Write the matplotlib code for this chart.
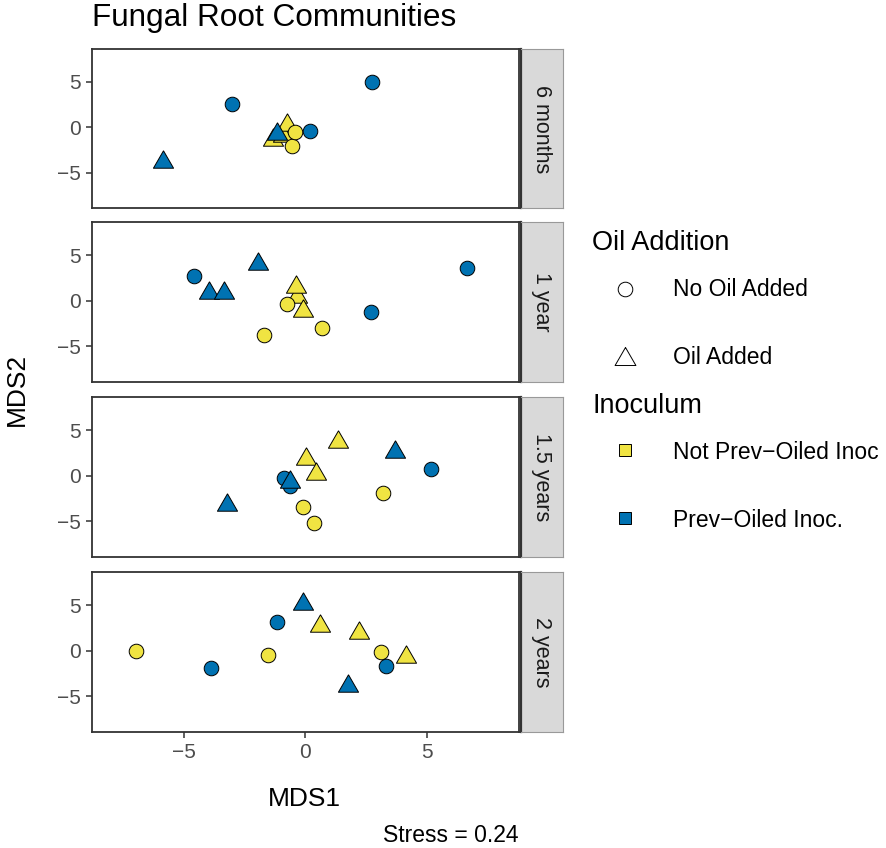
import numpy as np
import matplotlib
matplotlib.use('Agg')
import matplotlib.pyplot as plt
from matplotlib.lines import Line2D

plt.rcParams['font.family'] = ['Liberation Sans', 'DejaVu Sans']

# facet labels
panels = ['6 months', '1 year', '1.5 years', '2 years']

# points per facet (drawing order, back to front)
mds1_6m = [-1.33, -0.92, -0.73, -0.55, -0.41, 2.74, -3.01, -5.85, -1.14, 0.18]
mds2_6m = [-1.03, -0.59, 0.62, -2.10, -0.55, 4.93, 2.57, -3.47, -0.35, -0.40]
oil_6m = ['oil', 'oil', 'oil', 'none', 'none', 'none', 'none', 'oil', 'oil', 'none']
inoc_6m = ['not', 'not', 'not', 'not', 'not', 'prev', 'prev', 'prev', 'prev', 'prev']

mds1_1y = [-0.32, -0.37, -0.75, -0.07, -1.69, 0.69, -4.59, -3.95, -3.32, -1.96, 6.67, 2.71]
mds2_1y = [0.69, 1.78, -0.37, -0.84, -3.77, -3.03, 2.70, 1.16, 1.16, 4.34, 3.60, -1.25]
oil_1y = ['oil', 'oil', 'none', 'oil', 'none', 'none', 'none', 'oil', 'oil', 'oil', 'none', 'none']
inoc_1y = ['not'] * 6 + ['prev'] * 6

mds1_15y = [1.34, 0.04, 0.45, 3.19, -0.11, 0.37, 3.70, 5.18, -3.22, -0.62, -0.86, -0.64]
mds2_15y = [4.00, 2.19, 0.48, -1.93, -3.46, -5.20, 2.92, 0.73, -2.91, -1.10, -0.30, -0.36]
oil_15y = ['oil', 'oil', 'oil', 'none', 'none', 'none', 'oil', 'none', 'oil', 'none', 'none', 'oil']
inoc_15y = ['not'] * 6 + ['prev'] * 6

mds1_2y = [-6.95, -1.51, 3.11, 0.59, 2.23, 4.15, -0.10, 1.75, -1.16, -3.86, 3.32]
mds2_2y = [0.00, -0.47, -0.14, 3.00, 2.27, -0.36, 5.48, -3.51, 3.19, -1.94, -1.68]
oil_2y = ['none', 'none', 'none', 'oil', 'oil', 'oil', 'oil', 'oil', 'none', 'none', 'none']
inoc_2y = ['not'] * 6 + ['prev'] * 5

facet_x = [mds1_6m, mds1_1y, mds1_15y, mds1_2y]
facet_y = [mds2_6m, mds2_1y, mds2_15y, mds2_2y]
facet_oil = [oil_6m, oil_1y, oil_15y, oil_2y]
facet_inoc = [inoc_6m, inoc_1y, inoc_15y, inoc_2y]

ticks = [-5, 0, 5]
stress = 0.24

colors = {'not': '#F0E442', 'prev': '#0072B2'}
tri = [(0, 0.866), (-1, -0.866), (1, -0.866), (0, 0.866)]
shapes = {'none': 'o', 'oil': tri}
sizes = {'none': 10.5, 'oil': 14.5}

W, H = 886, 848
fig = plt.figure(figsize=(W / 100, H / 100), dpi=100)


def fx(px):
    return px / W


def fy(py):
    return 1 - py / H


tops = [49, 222.3, 397.3, 572.3]
ph = 159.4
left, right = 92.3, 519.3

for i, name in enumerate(panels):
    ax = fig.add_axes([fx(left), fy(tops[i] + ph), fx(right - left), ph / H])
    for x, y, o, c in zip(facet_x[i], facet_y[i], facet_oil[i], facet_inoc[i]):
        ax.plot([x], [y], linestyle='none', marker=shapes[o], ms=sizes[o],
                mfc=colors[c], mec='black', mew=0.7)
    ax.set_xlim(-8.75, 8.8)
    ax.set_ylim(-8.9, 8.6)
    ax.set_yticks(ticks)
    ax.set_xticks(ticks)
    for s in ax.spines.values():
        s.set_color('#333333')
        s.set_linewidth(1.3)
    ax.tick_params(colors='#333333', labelcolor='#4D4D4D', labelsize=15,
                   length=4.5, width=1.1)
    if i < 3:
        ax.tick_params(axis='x', bottom=False, labelbottom=False)

    # strip
    st = fig.add_axes([fx(520.5), fy(tops[i] + ph), fx(563.3 - 520.5), ph / H])
    st.set_facecolor('#D9D9D9')
    st.set_xticks([])
    st.set_yticks([])
    for k, s in st.spines.items():
        s.set_color('#333333' if k == 'left' else '#999999')
        s.set_linewidth(1.6 if k == 'left' else 0.8)
    st.text(0.5, 0.5, name, rotation=-90, ha='center', va='center',
            fontsize=15.5, color='#1A1A1A', transform=st.transAxes)

fig.text(fx(92), fy(26), 'Fungal Root Communities', fontsize=22.7, ha='left', va='baseline')
fig.text(fx(16.7), fy(389), 'MDS2', rotation=90, fontsize=19, ha='center', va='center')
fig.text(fx(304.3), fy(799), 'MDS1', fontsize=19, ha='center', va='center')
fig.text(fx(450.5), fy(835), 'Stress = ' + str(stress), fontsize=16.5, ha='center', va='center')

# legend
fig.text(fx(591.7), fy(250), 'Oil Addition', fontsize=19.5, ha='left', va='baseline')
fig.text(fx(592.7), fy(412.7), 'Inoculum', fontsize=19.5, ha='left', va='baseline')
leg = [
    ('No Oil Added', 289.3, 296, 'o', 10.5, 'white'),
    ('Oil Added', 356, 364, tri, 15, 'white'),
    ('Not Prev\u2212Oiled Inoc', 450, 459.3, 's', 9, colors['not']),
    ('Prev\u2212Oiled Inoc.', 517.7, 526.7, 's', 9, colors['prev']),
]
for label, my, ty, m, ms, fc in leg:
    fig.add_artist(Line2D([fx(625)], [fy(my)], transform=fig.transFigure,
                          linestyle='none', marker=m, ms=ms, mfc=fc, mec='black',
                          mew=0.7))
    fig.text(fx(673.3), fy(ty), label, fontsize=16.5, ha='left', va='baseline')

fig.savefig('out.png', dpi=100)
